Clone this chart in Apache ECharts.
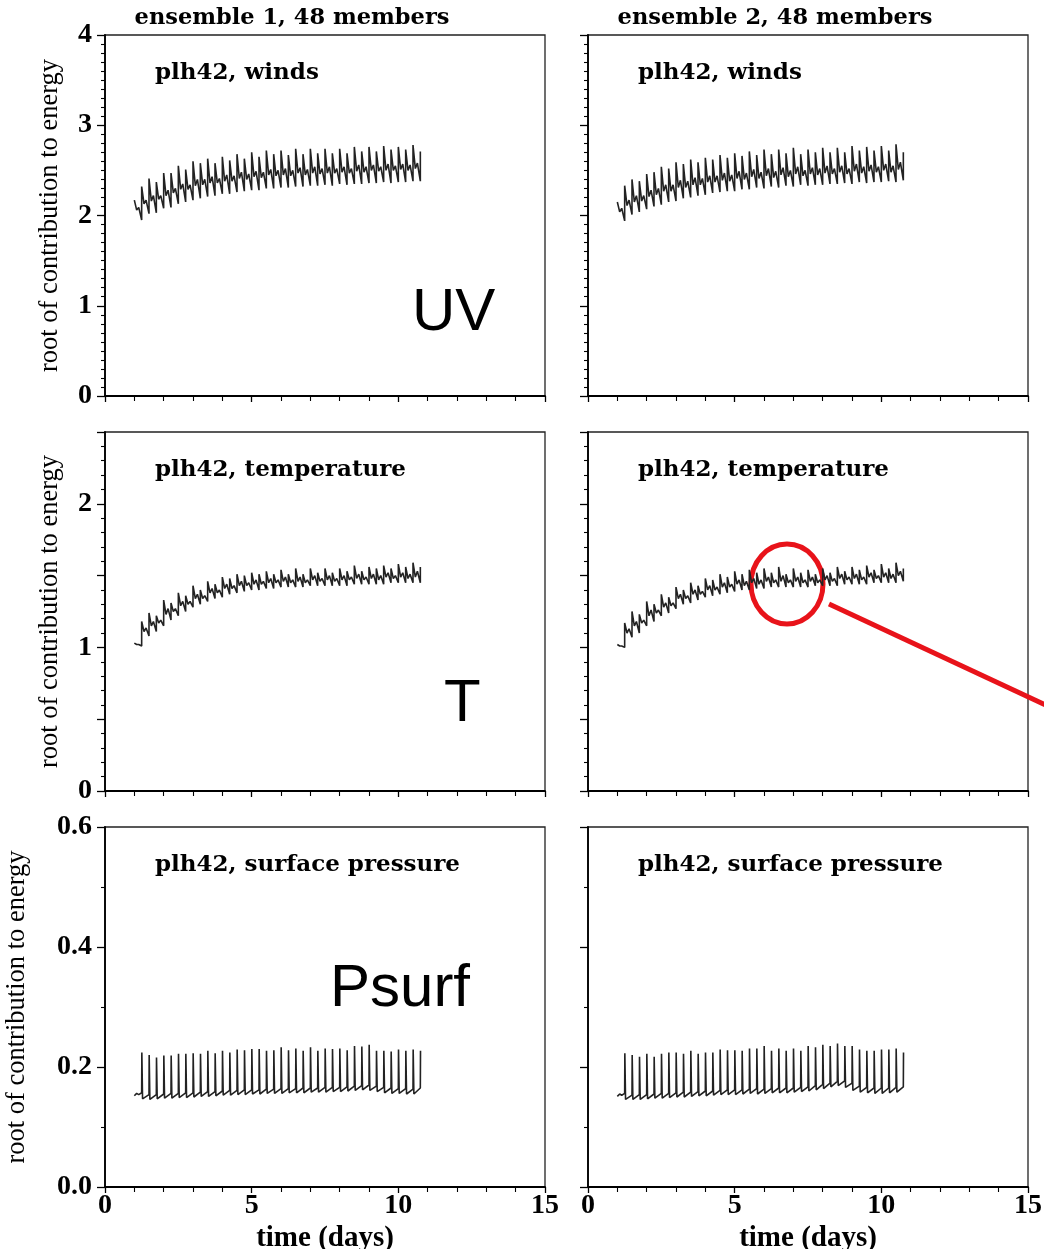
<!DOCTYPE html>
<html><head><meta charset="utf-8">
<script src="https://cdn.jsdelivr.net/npm/echarts@6/dist/echarts.min.js"></script>
<style>html,body{margin:0;padding:0;background:#fff}#c{width:1044px;height:1249px}</style>
</head><body><div id="c"></div>
<script>
// ---------- DATA ----------
// cycle start times (days): 6-hourly analysis cycles
const cycleStarts = [1.25,1.5,1.75,2,2.25,2.5,2.75,3,3.25,3.5,3.75,4,4.25,4.5,4.75,5,5.25,5.5,5.75,6,6.25,6.5,6.75,7,7.25,7.5,7.75,8,8.25,8.5,8.75,9,9.25,9.5,9.75,10,10.25,10.5,10.75];
const headTimes = [1.0, 1.08, 1.15];
const subTimes = [0.08, 0.15];       // sample offsets inside a cycle (winds, temperature)
const spikeTimes = [0.006, 0.03];    // sample offsets inside a cycle (surface pressure)

// ensemble 1, winds
const winds1Head = [2.17, 2.06, 2.09];
const winds1Trough = [1.95,2.02,2.03,2.08,2.09,2.13,2.15,2.17,2.19,2.21,2.22,2.24,2.24,2.26,2.27,2.28,2.28,2.30,2.30,2.31,2.31,2.32,2.32,2.33,2.33,2.34,2.33,2.35,2.34,2.35,2.35,2.36,2.36,2.37,2.36,2.37,2.37,2.38,2.38];
const winds1Peak = [2.32,2.41,2.37,2.47,2.47,2.55,2.51,2.60,2.58,2.63,2.58,2.65,2.61,2.68,2.63,2.70,2.65,2.72,2.68,2.72,2.67,2.74,2.68,2.74,2.69,2.74,2.69,2.74,2.69,2.76,2.71,2.76,2.71,2.77,2.73,2.76,2.73,2.78,2.71];
const winds1Dip = [2.13,2.16,2.18,2.22,2.25,2.29,2.29,2.33,2.34,2.36,2.36,2.38,2.38,2.41,2.40,2.43,2.42,2.45,2.44,2.45,2.44,2.47,2.45,2.47,2.46,2.47,2.47,2.48,2.47,2.49,2.48,2.50,2.49,2.50,2.50,2.51,2.50,2.52];
const winds1Bump = [2.17,2.22,2.22,2.28,2.30,2.35,2.34,2.40,2.40,2.43,2.41,2.45,2.44,2.48,2.46,2.49,2.48,2.51,2.50,2.52,2.50,2.53,2.51,2.54,2.52,2.54,2.52,2.54,2.52,2.56,2.54,2.56,2.54,2.57,2.55,2.57,2.56,2.58];

// ensemble 2, winds
const winds2Head = [2.15, 2.04, 2.08];
const winds2Trough = [1.94,2.01,2.04,2.07,2.10,2.12,2.15,2.16,2.19,2.20,2.22,2.23,2.25,2.26,2.27,2.27,2.29,2.29,2.31,2.30,2.32,2.31,2.33,2.32,2.34,2.33,2.34,2.34,2.35,2.35,2.36,2.35,2.37,2.36,2.37,2.37,2.38,2.37,2.39];
const winds2Peak = [2.33,2.40,2.38,2.46,2.48,2.54,2.52,2.59,2.57,2.62,2.59,2.64,2.62,2.67,2.64,2.69,2.66,2.71,2.67,2.73,2.68,2.73,2.69,2.75,2.68,2.73,2.70,2.75,2.70,2.75,2.70,2.77,2.72,2.76,2.72,2.77,2.72,2.79,2.70];
const winds2Dip = [2.11,2.15,2.16,2.21,2.23,2.27,2.27,2.31,2.31,2.34,2.34,2.37,2.37,2.39,2.38,2.41,2.40,2.43,2.41,2.44,2.42,2.45,2.43,2.46,2.44,2.46,2.45,2.47,2.46,2.48,2.46,2.49,2.47,2.49,2.48,2.50,2.48,2.51];
const winds2Bump = [2.17,2.22,2.22,2.28,2.30,2.34,2.34,2.39,2.38,2.42,2.41,2.44,2.44,2.47,2.45,2.49,2.47,2.51,2.48,2.52,2.49,2.53,2.50,2.54,2.50,2.53,2.52,2.55,2.52,2.55,2.52,2.57,2.54,2.56,2.54,2.57,2.55,2.59];

// ensemble 1, temperature
const temp1Head = [1.03, 1.02, 1.02];
const temp1Trough = [1.01,1.08,1.11,1.15,1.19,1.22,1.25,1.28,1.30,1.32,1.34,1.35,1.37,1.38,1.39,1.40,1.40,1.41,1.41,1.42,1.42,1.42,1.42,1.43,1.43,1.43,1.43,1.43,1.43,1.44,1.44,1.44,1.44,1.44,1.45,1.45,1.45,1.45,1.45];
const temp1Peak = [1.18,1.24,1.22,1.33,1.31,1.38,1.36,1.43,1.40,1.46,1.44,1.49,1.48,1.51,1.50,1.52,1.51,1.53,1.51,1.54,1.51,1.55,1.51,1.55,1.52,1.55,1.52,1.55,1.53,1.57,1.53,1.56,1.55,1.57,1.55,1.58,1.56,1.59,1.56];
const temp1Dip = [1.11,1.15,1.17,1.23,1.25,1.29,1.30,1.34,1.34,1.38,1.38,1.41,1.41,1.43,1.43,1.44,1.44,1.45,1.45,1.46,1.45,1.46,1.45,1.47,1.46,1.47,1.46,1.47,1.47,1.48,1.47,1.48,1.47,1.49,1.48,1.49,1.48,1.49];
const temp1Bump = [1.135,1.18,1.19,1.27,1.27,1.32,1.32,1.37,1.36,1.41,1.40,1.44,1.43,1.46,1.45,1.47,1.46,1.48,1.47,1.49,1.47,1.49,1.47,1.50,1.48,1.50,1.48,1.50,1.49,1.51,1.49,1.51,1.50,1.52,1.50,1.52,1.51,1.53];

// ensemble 2, temperature
const temp2Head = [1.02, 1.01, 1.01];
const temp2Trough = [1.00,1.07,1.10,1.15,1.18,1.22,1.24,1.27,1.30,1.31,1.33,1.35,1.36,1.37,1.38,1.39,1.40,1.40,1.41,1.41,1.42,1.42,1.42,1.42,1.42,1.42,1.43,1.43,1.43,1.43,1.44,1.44,1.44,1.44,1.45,1.45,1.45,1.45,1.46];
const temp2Peak = [1.17,1.25,1.23,1.32,1.30,1.37,1.35,1.42,1.40,1.45,1.43,1.48,1.47,1.51,1.49,1.53,1.51,1.54,1.52,1.55,1.52,1.56,1.51,1.55,1.52,1.54,1.51,1.55,1.52,1.56,1.53,1.56,1.54,1.57,1.54,1.58,1.55,1.59,1.55];
const temp2Dip = [1.10,1.15,1.17,1.22,1.24,1.28,1.29,1.34,1.34,1.37,1.37,1.40,1.40,1.42,1.42,1.44,1.43,1.45,1.44,1.46,1.45,1.46,1.45,1.46,1.45,1.46,1.45,1.47,1.46,1.48,1.47,1.48,1.47,1.49,1.48,1.49,1.48,1.50];
const temp2Bump = [1.13,1.18,1.19,1.26,1.26,1.31,1.31,1.37,1.36,1.40,1.39,1.43,1.42,1.45,1.44,1.47,1.46,1.48,1.47,1.49,1.47,1.50,1.47,1.49,1.47,1.49,1.47,1.50,1.48,1.51,1.49,1.51,1.49,1.52,1.50,1.52,1.51,1.53];

// ensemble 1, surface pressure
const psurf1Head = [0.152, 0.156, 0.154];
const psurf1Base = [0.157,0.154,0.154,0.155,0.156,0.156,0.157,0.157,0.158,0.159,0.159,0.160,0.161,0.161,0.162,0.162,0.162,0.163,0.163,0.164,0.164,0.164,0.165,0.165,0.165,0.166,0.166,0.166,0.167,0.168,0.169,0.170,0.168,0.166,0.165,0.164,0.164,0.163,0.165];
const psurf1Peak = [0.224,0.220,0.216,0.219,0.219,0.222,0.222,0.223,0.222,0.227,0.223,0.227,0.224,0.229,0.228,0.230,0.230,0.227,0.228,0.233,0.228,0.231,0.227,0.233,0.227,0.231,0.230,0.231,0.228,0.235,0.234,0.237,0.227,0.227,0.226,0.229,0.227,0.229,0.227];
const psurf1Low = [0.147,0.146,0.147,0.148,0.148,0.149,0.149,0.150,0.151,0.151,0.152,0.153,0.153,0.154,0.154,0.155,0.155,0.156,0.156,0.156,0.157,0.157,0.157,0.158,0.158,0.158,0.159,0.159,0.160,0.161,0.162,0.161,0.159,0.157,0.156,0.156,0.155,0.155];

// ensemble 2, surface pressure
const psurf2Head = [0.151, 0.155, 0.153];
const psurf2Base = [0.156,0.153,0.154,0.154,0.155,0.156,0.156,0.157,0.158,0.158,0.159,0.160,0.160,0.161,0.162,0.162,0.162,0.163,0.164,0.163,0.164,0.165,0.165,0.165,0.166,0.167,0.169,0.171,0.173,0.176,0.177,0.173,0.168,0.166,0.165,0.165,0.165,0.166,0.167];
const psurf2Peak = [0.223,0.220,0.217,0.222,0.217,0.222,0.224,0.224,0.222,0.227,0.222,0.224,0.224,0.229,0.228,0.228,0.227,0.231,0.231,0.235,0.227,0.231,0.227,0.231,0.227,0.235,0.233,0.237,0.235,0.239,0.235,0.235,0.229,0.227,0.227,0.229,0.229,0.231,0.224];
const psurf2Low = [0.146,0.146,0.146,0.147,0.148,0.148,0.149,0.150,0.150,0.151,0.152,0.152,0.153,0.154,0.154,0.154,0.155,0.156,0.155,0.156,0.157,0.157,0.157,0.158,0.159,0.160,0.162,0.164,0.167,0.169,0.166,0.161,0.158,0.157,0.156,0.156,0.157,0.158];

// tick labels
const xTicks = [0, 5, 10, 15];
const windsTicks = [0, 1, 2, 3, 4];
const tempTicks = [0, 1, 2];
const psurfTicks = [0, 0.2, 0.4, 0.6];

const colTitles = ['ensemble 1, 48 members', 'ensemble 2, 48 members'];
const panelTitles = ['plh42, winds', 'plh42, temperature', 'plh42, surface pressure'];
const yName = 'root of contribution to energy';
const xName = 'time (days)';
const bigLabels = ['UV', 'T', 'Psurf'];

// ---------- build line points from the read values ----------
function sawSeries(head, trough, peak, dip, bump) {
  const pts = headTimes.map((t, k) => [t, head[k]]);
  cycleStarts.forEach((t, i) => {
    pts.push([t, trough[i]], [t, peak[i]]);
    if (i < dip.length) {
      pts.push([t + subTimes[0], dip[i]], [t + subTimes[1], bump[i]]);
    }
  });
  return pts;
}
function spikeSeries(head, base, peak, low) {
  const pts = headTimes.map((t, k) => [t, head[k]]);
  cycleStarts.forEach((t, i) => {
    pts.push([t, base[i]], [t + spikeTimes[0], peak[i]]);
    if (i < low.length) pts.push([t + spikeTimes[1], low[i]]);
  });
  return pts;
}

const seriesData = [
  sawSeries(winds1Head, winds1Trough, winds1Peak, winds1Dip, winds1Bump),
  sawSeries(winds2Head, winds2Trough, winds2Peak, winds2Dip, winds2Bump),
  sawSeries(temp1Head, temp1Trough, temp1Peak, temp1Dip, temp1Bump),
  sawSeries(temp2Head, temp2Trough, temp2Peak, temp2Dip, temp2Bump),
  spikeSeries(psurf1Head, psurf1Base, psurf1Peak, psurf1Low),
  spikeSeries(psurf2Head, psurf2Base, psurf2Peak, psurf2Low)
];

// ---------- layout ----------
const serif = '"Liberation Serif","Times New Roman",serif';
const wide = '"DejaVu Serif",serif';
const sans = '"Liberation Sans",Arial,sans-serif';
const colLeft = [105, 588];
const rowTop = [35, 432, 827];
const rowH = [361, 359, 360];
const plotW = 440;

const grids = [], xAxes = [], yAxes = [], series = [];
const yCfg = [
  {min: 0, max: 4, interval: 1, minor: 10, ticks: windsTicks, fmt: v => String(v), gap: 41},
  {min: 0, max: 2.5, interval: 0.5, minor: 5, ticks: tempTicks, fmt: v => String(v), gap: 41},
  {min: 0, max: 0.6, interval: 0.2, minor: 2, ticks: psurfTicks, fmt: v => v.toFixed(1), gap: 74}
];
for (let r = 0; r < 3; r++) {
  for (let c = 0; c < 2; c++) {
    const gi = r * 2 + c;
    grids.push({left: colLeft[c], top: rowTop[r], width: plotW, height: rowH[r],
      show: true, borderColor: '#222', borderWidth: 1.3, containLabel: false, outerBoundsMode: 'none'});
    const bottom = r === 2;
    xAxes.push({gridIndex: gi, type: 'value', min: 0, max: 15, interval: 5,
      axisLine: {show: true, onZero: false, lineStyle: {color: '#000', width: 1.8}},
      axisTick: {show: true, length: 6, lineStyle: {color: '#000', width: 1.3}},
      minorTick: {show: true, splitNumber: 5, length: 5, lineStyle: {color: '#000', width: 1.1}},
      splitLine: {show: false},
      axisLabel: {show: bottom, color: '#000', fontFamily: serif, fontWeight: 'bold', fontSize: 28, margin: 5,
        formatter: v => xTicks.includes(v) ? String(v) : ''},
      name: bottom ? xName : '', nameLocation: 'middle', nameGap: 37,
      nameTextStyle: {color: '#000', fontFamily: serif, fontWeight: 'bold', fontSize: 29}
    });
    const y = yCfg[r];
    yAxes.push({gridIndex: gi, type: 'value', min: y.min, max: y.max, interval: y.interval,
      axisLine: {show: true, onZero: false, lineStyle: {color: '#000', width: 1.8}},
      axisTick: {show: true, length: 8, lineStyle: {color: '#000', width: 1.3}},
      minorTick: {show: true, splitNumber: y.minor, length: 4, lineStyle: {color: '#000', width: 1.1}},
      splitLine: {show: false},
      axisLabel: {show: c === 0, color: '#000', fontFamily: serif, fontWeight: 'bold', fontSize: 28, margin: 13,
        formatter: v => y.ticks.some(t => Math.abs(t - v) < 1e-9) ? y.fmt(v) : ''},
      name: c === 0 ? yName : '', nameLocation: 'middle', nameGap: y.gap,
      nameTextStyle: {color: '#000', fontFamily: serif, fontSize: 26.5}
    });
    series.push({type: 'line', xAxisIndex: gi, yAxisIndex: gi, data: seriesData[gi],
      showSymbol: false, symbol: 'none', silent: true,
      lineStyle: {color: '#222', width: 1.6}});
  }
}

const graphics = [];
// column titles
colTitles.forEach((t, c) => graphics.push({type: 'text', x: colLeft[c] + 187, y: 18,
  style: {text: t, font: 'bold 22.5px ' + wide, fill: '#000', textAlign: 'center', textVerticalAlign: 'middle'}}));
// panel titles
panelTitles.forEach((t, r) => [0, 1].forEach(c => graphics.push({type: 'text', x: colLeft[c] + 50, y: rowTop[r] + 38,
  style: {text: t, font: 'bold 23px ' + wide, fill: '#000', textAlign: 'left', textVerticalAlign: 'middle'}})));
// big annotations
const bigPos = [[412, 313], [444, 704], [330, 989]];
bigLabels.forEach((t, k) => graphics.push({type: 'text', x: bigPos[k][0], y: bigPos[k][1],
  style: {text: t, font: '60px ' + sans, fill: '#000', textAlign: 'left', textVerticalAlign: 'middle'}}));
// red highlight
graphics.push({type: 'ellipse', shape: {cx: 787, cy: 584, rx: 36, ry: 40},
  style: {fill: 'none', stroke: '#e8131a', lineWidth: 5}});
graphics.push({type: 'line', shape: {x1: 829, y1: 604, x2: 1050, y2: 707},
  style: {stroke: '#e8131a', lineWidth: 5}});

const chart = echarts.init(document.getElementById('c'), null, {renderer: 'canvas'});
chart.setOption({
  animation: false,
  backgroundColor: '#fff',
  grid: grids, xAxis: xAxes, yAxis: yAxes, series: series,
  graphic: graphics
});
</script>
</body></html>
